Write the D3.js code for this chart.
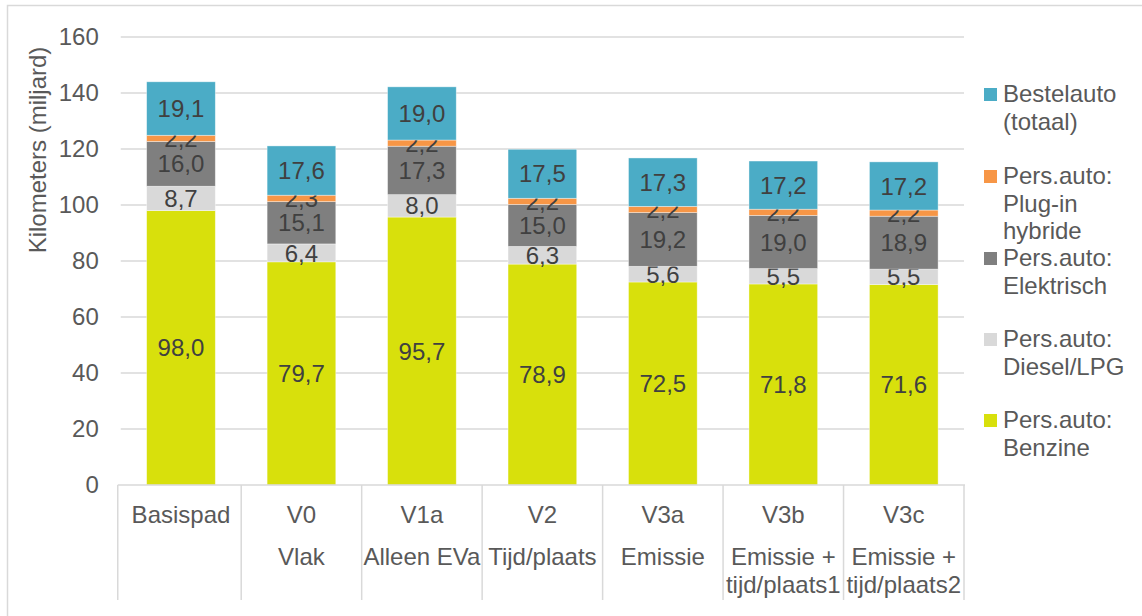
<!DOCTYPE html>
<html>
<head>
<meta charset="utf-8">
<script src="https://cdn.jsdelivr.net/npm/d3@7"></script>
<style>
  body { margin: 0; background: #fff; }
  svg text { font-family: "Liberation Sans", Arial, sans-serif; }
</style>
</head>
<body>
<div id="chart"></div>
<script>
// scenario's (eerste regel, tweede regel, derde regel)
var scenarios = ["Basispad", "V0", "V1a", "V2", "V3a", "V3b", "V3c"];
var labelLine2 = ["", "Vlak", "Alleen EVa", "Tijd/plaats", "Emissie", "Emissie +", "Emissie +"];
var labelLine3 = ["", "", "", "", "", "tijd/plaats1", "tijd/plaats2"];

// waarden per reeks (miljard km)
var benzine    = [98.0, 79.7, 95.7, 78.9, 72.5, 71.8, 71.6];
var diesel     = [8.7, 6.4, 8.0, 6.3, 5.6, 5.5, 5.5];
var elektrisch = [16.0, 15.1, 17.3, 15.0, 19.2, 19.0, 18.9];
var plugin     = [2.2, 2.3, 2.2, 2.2, 2.2, 2.2, 2.2];
var bestel     = [19.1, 17.6, 19.0, 17.5, 17.3, 17.2, 17.2];

var yTicks = [0, 20, 40, 60, 80, 100, 120, 140, 160];

var SERIES = [
  {key: "benzine", values: benzine, color: "#d8e00c", legend: ["Pers.auto:", "Benzine"]},
  {key: "diesel", values: diesel, color: "#d9d9d9", legend: ["Pers.auto:", "Diesel/LPG"]},
  {key: "elektrisch", values: elektrisch, color: "#7f7f7f", legend: ["Pers.auto:", "Elektrisch"]},
  {key: "plugin", values: plugin, color: "#f79646", legend: ["Pers.auto:", "Plug-in", "hybride"]},
  {key: "bestel", values: bestel, color: "#4bacc6", legend: ["Bestelauto", "(totaal)"]}
];

var FS = "24px";
var W = 1142, H = 616;
var margin = {top: 37, left: 120.75, right: 178, bottom: 131};
var width = W - margin.left - margin.right,
    height = H - margin.top - margin.bottom;

var svg = d3.select("#chart").append("svg")
  .attr("width", W)
  .attr("height", H);

// kader
svg.append("rect")
  .attr("x", 7.5).attr("y", 5.5)
  .attr("width", W + 20).attr("height", H + 20)
  .attr("fill", "none")
  .attr("stroke", "#d9d9d9")
  .attr("stroke-width", 1.5);

var g = svg.append("g")
  .attr("transform", "translate(" + margin.left + "," + margin.top + ")");

var x = d3.scaleBand()
  .domain(scenarios)
  .range([0, width])
  .paddingInner(0.43)
  .paddingOuter(0.215);

var y = d3.scaleLinear()
  .domain([0, 160])
  .range([height, 0]);

// rasterlijnen
g.selectAll(".grid")
  .data(yTicks.filter(function(d) { return d > 0; }))
  .enter().append("line")
  .attr("class", "grid")
  .attr("x1", 0).attr("x2", width)
  .attr("y1", function(d) { return y(d); })
  .attr("y2", function(d) { return y(d); })
  .attr("stroke", "#d9d9d9")
  .attr("stroke-width", 1.5);

var yAxis = d3.axisLeft(y).tickValues(yTicks).tickSize(0).tickPadding(22);
var ya = g.append("g").call(yAxis);
ya.select(".domain").remove();
ya.selectAll("text")
  .attr("fill", "#595959")
  .style("font-size", FS);

// y-as titel
svg.append("text")
  .attr("transform", "translate(46,150) rotate(-90)")
  .attr("text-anchor", "middle")
  .attr("fill", "#595959")
  .style("font-size", FS)
  .text("Kilometers (miljard)");

// gestapelde balken
var stackData = scenarios.map(function(s, i) {
  var o = {scenario: s};
  SERIES.forEach(function(se) { o[se.key] = se.values[i]; });
  return o;
});
var stack = d3.stack().keys(SERIES.map(function(d) { return d.key; }));
var layers = stack(stackData);

var layer = g.selectAll(".layer")
  .data(layers)
  .enter().append("g")
  .attr("class", "layer")
  .attr("fill", function(d, i) { return SERIES[i].color; });

layer.selectAll("rect")
  .data(function(d) { return d; })
  .enter().append("rect")
  .attr("x", function(d) { return x(d.data.scenario); })
  .attr("width", x.bandwidth())
  .attr("y", function(d) { return y(d[1]); })
  .attr("height", function(d) { return y(d[0]) - y(d[1]); })
  .attr("stroke", "rgba(255,255,255,0.5)")
  .attr("stroke-width", 0.75);

layer.selectAll("text")
  .data(function(d) { return d; })
  .enter().append("text")
  .attr("x", function(d) { return x(d.data.scenario) + x.bandwidth() / 2; })
  .attr("y", function(d) { return (y(d[0]) + y(d[1])) / 2; })
  .attr("dy", "0.36em")
  .attr("text-anchor", "middle")
  .attr("fill", "#404040")
  .style("font-size", FS)
  .text(function(d) { return d3.format(".1f")(d[1] - d[0]).replace(".", ","); });

// x-as
var step = x.step();
var x0 = x(scenarios[0]) - x.paddingOuter() * step;
g.append("line")
  .attr("x1", x0 - 3).attr("x2", width + 1)
  .attr("y1", height).attr("y2", height)
  .attr("stroke", "#d9d9d9").attr("stroke-width", 1.5);

var dividers = d3.range(scenarios.length + 1).map(function(i) { return x0 + i * step; });
g.selectAll(".div")
  .data(dividers)
  .enter().append("line")
  .attr("x1", function(d, i) { return i === 0 ? d - 3 : d; })
  .attr("x2", function(d, i) { return i === 0 ? d - 3 : d; })
  .attr("y1", height).attr("y2", height + 115)
  .attr("stroke", "#d9d9d9").attr("stroke-width", 1.5);

var lab = g.selectAll(".xlab")
  .data(scenarios)
  .enter().append("text")
  .attr("class", "xlab")
  .attr("text-anchor", "middle")
  .attr("fill", "#595959")
  .style("font-size", FS)
  .attr("transform", function(d) { return "translate(" + (x(d) + x.bandwidth() / 2) + "," + height + ")"; });
lab.append("tspan").attr("x", 0).attr("y", 38).text(function(d) { return d; });
lab.append("tspan").attr("x", 0).attr("y", 80).text(function(d, i) { return labelLine2[i]; });
lab.append("tspan").attr("x", 0).attr("y", 108).text(function(d, i) { return labelLine3[i]; });

// legenda
var legendTop = [102, 184, 266, 347, 428]; // basislijn eerste regel
var legendOrder = SERIES.slice().reverse();
var leg = svg.selectAll(".leg")
  .data(legendOrder)
  .enter().append("g")
  .attr("class", "leg")
  .attr("transform", function(d, i) { return "translate(984," + legendTop[i] + ")"; });
leg.append("rect")
  .attr("x", 0).attr("y", -14)
  .attr("width", 13).attr("height", 13)
  .attr("fill", function(d) { return d.color; });
var lt = leg.append("text")
  .attr("fill", "#595959")
  .style("font-size", FS);
lt.selectAll("tspan")
  .data(function(d) { return d.legend; })
  .enter().append("tspan")
  .attr("x", 19)
  .attr("y", function(d, i) { return i * 27.5; })
  .text(function(d) { return d; });
</script>
</body>
</html>
